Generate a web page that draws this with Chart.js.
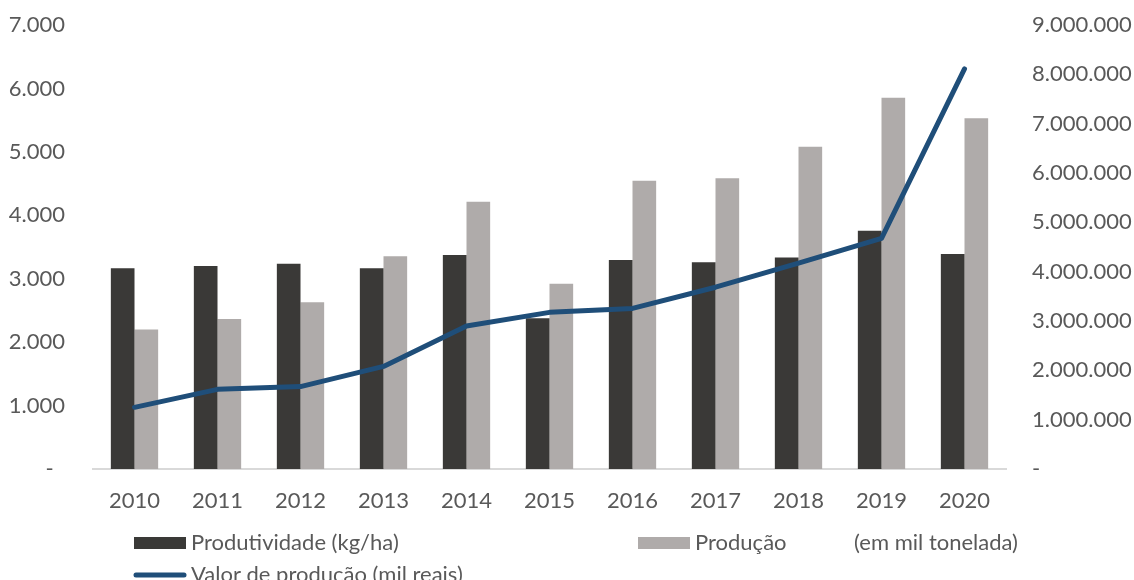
<!DOCTYPE html>
<html lang="pt">
<head>
<meta charset="utf-8">
<title>Produtividade, produção e valor</title>
<script src="https://cdn.jsdelivr.net/npm/chart.js@4.4.1/dist/chart.umd.min.js"></script>
<style>
    html, body { margin: 0; padding: 0; background: #ffffff; }
    #wrap { width: 1134px; height: 580px; position: relative; }
</style>
</head>
<body>
<div id="wrap"><canvas id="mainChart"></canvas></div>
<script>
const years = ['2010', '2011', '2012', '2013', '2014', '2015', '2016', '2017', '2018', '2019', '2020'];
const produtividade = [3165, 3200, 3235, 3165, 3375, 2375, 3295, 3260, 3335, 3755, 3390];
const producao = [2200, 2365, 2630, 3355, 4215, 2920, 4545, 4585, 5080, 5855, 5530];
const valorProducao = [1250000, 1615000, 1670000, 2080000, 2900000, 3175000, 3255000, 3685000, 4175000, 4675000, 8110000];
const leftTicks = [0, 1000, 2000, 3000, 4000, 5000, 6000, 7000];
const rightTicks = [0, 1000000, 2000000, 3000000, 4000000, 5000000, 6000000, 7000000, 8000000, 9000000];

const FONT = "Lato, 'Open Sans', sans-serif";
const TEXT = '#595959';
const SIZE = 22;

function fmt(v) {
    return String(v).replace(/\B(?=(\d{3})+(?!\d))/g, '.');
}

// largura fixa e sem folga extra em cima (o padding dos ticks entra no paddingTop)
function fixAxis(width) {
    return function (scale) {
        scale.width = width;
        scale.paddingTop = 0;
        scale.paddingBottom = 0;
    };
}

// legenda desenhada em duas colunas, como no original
const gridLegend = {
    id: 'gridLegend',
    afterDraw(chart) {
        const ctx = chart.ctx;
        const startX = 134, colW = 504, rowY = 543, rowH = 32;
        ctx.save();
        ctx.font = SIZE + 'px ' + FONT;
        ctx.textBaseline = 'middle';
        chart.data.datasets.forEach(function (ds, i) {
            const x = startX + (i % 2) * colW;
            const y = rowY + Math.floor(i / 2) * rowH;
            if (ds.type === 'line') {
                ctx.strokeStyle = ds.borderColor;
                ctx.lineWidth = 5;
                ctx.lineCap = 'round';
                ctx.beginPath();
                ctx.moveTo(x + 2, y);
                ctx.lineTo(x + 50, y);
                ctx.stroke();
            } else {
                ctx.fillStyle = ds.backgroundColor;
                ctx.fillRect(x, y - 6, 52, 12);
            }
            ctx.fillStyle = TEXT;
            ctx.textAlign = 'left';
            ctx.fillText(ds.label, x + 57, y);
        });
        ctx.restore();
    }
};

new Chart(document.getElementById('mainChart'), {
    data: {
        labels: years,
        datasets: [
            {
                type: 'bar',
                label: 'Produtividade (kg/ha)',
                data: produtividade,
                backgroundColor: '#3a3937',
                yAxisID: 'y',
                order: 1,
                categoryPercentage: 0.57,
                barPercentage: 1.0
            },
            {
                type: 'bar',
                label: 'Produção            (em mil tonelada)',
                data: producao,
                backgroundColor: '#afabaa',
                yAxisID: 'y',
                order: 1,
                categoryPercentage: 0.57,
                barPercentage: 1.0
            },
            {
                type: 'line',
                label: 'Valor de produção (mil reais)',
                data: valorProducao,
                borderColor: '#1f4e79',
                backgroundColor: '#1f4e79',
                borderWidth: 5,
                borderCapStyle: 'round',
                borderJoinStyle: 'round',
                pointRadius: 0,
                tension: 0,
                yAxisID: 'y1',
                order: 0
            }
        ]
    },
    options: {
        responsive: true,
        maintainAspectRatio: false,
        animation: false,
        layout: { padding: { top: 25, bottom: 61, left: 0, right: 0 } },
        plugins: {
            legend: { display: false },
            tooltip: { enabled: false }
        },
        scales: {
            x: {
                grid: { display: false, drawTicks: false },
                border: { display: true, color: '#d9d9d9', width: 2 },
                ticks: { color: TEXT, font: { family: FONT, size: SIZE }, padding: 19, maxRotation: 0 },
                afterFit(scale) { scale.height = 50; }
            },
            y: {
                position: 'left',
                min: 0,
                max: 7000,
                afterBuildTicks(scale) { scale.ticks = leftTicks.map(v => ({ value: v })); },
                grid: { display: false, drawTicks: false },
                border: { display: false },
                ticks: {
                    color: TEXT,
                    font: { family: FONT, size: SIZE },
                    padding: 28,
                    callback: v => v === 0 ? '-  ' : fmt(v)
                },
                afterFit: fixAxis(93)
            },
            y1: {
                position: 'right',
                min: 0,
                max: 9000000,
                afterBuildTicks(scale) { scale.ticks = rightTicks.map(v => ({ value: v })); },
                grid: { display: false, drawTicks: false },
                border: { display: false },
                ticks: {
                    color: TEXT,
                    font: { family: FONT, size: SIZE },
                    padding: 26,
                    callback: v => v === 0 ? '-' : fmt(v)
                },
                afterFit: fixAxis(128)
            }
        }
    },
    plugins: [gridLegend]
});
</script>
</body>
</html>
